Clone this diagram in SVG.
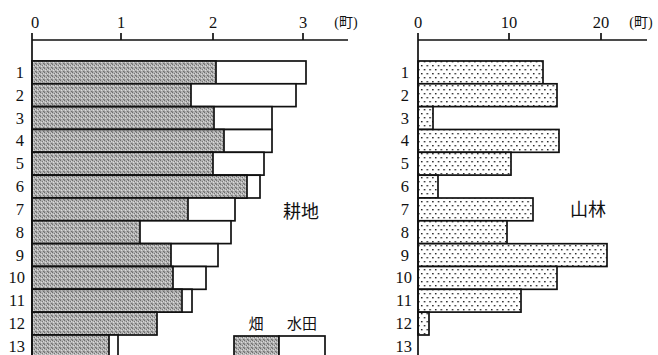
<svg xmlns="http://www.w3.org/2000/svg" width="658" height="355" viewBox="0 0 658 355">
<defs>
<pattern id="gray" width="4" height="4" patternUnits="userSpaceOnUse">
<rect width="4" height="4" fill="#b2b2b2"/>
<rect x="0" y="0" width="1" height="1" fill="#6e6e6e"/>
<rect x="2" y="1" width="1" height="1" fill="#7a7a7a"/>
<rect x="1" y="2" width="1" height="1" fill="#dcdcdc"/>
<rect x="3" y="3" width="1" height="1" fill="#707070"/>
<rect x="3" y="1" width="1" height="1" fill="#d6d6d6"/>
<rect x="0" y="3" width="1" height="1" fill="#909090"/>
</pattern>
<pattern id="dots" width="5.6" height="8" patternUnits="userSpaceOnUse">
<rect width="5.6" height="8" fill="#fff"/>
<rect x="1" y="1" width="1.4" height="1.4" fill="#111"/>
<rect x="3.8" y="5" width="1.4" height="1.4" fill="#111"/>
</pattern>
</defs>
<style>
.num{font-family:"Liberation Serif","DejaVu Serif",serif;font-size:16.5px;fill:#111}
.ax{stroke:#111;stroke-width:1.7;fill:none}
.g{fill:url(#gray);stroke:#111;stroke-width:1.7}
.w{fill:#fff;stroke:#111;stroke-width:1.7}
.d{fill:url(#dots);stroke:#111;stroke-width:1.7}
.cjk{font-family:"Noto Sans CJK JP",sans-serif;fill:#111}
.unit{font-family:"Liberation Serif","Noto Sans CJK JP",serif;font-size:14px;fill:#111}
</style>
<rect width="658" height="355" fill="#fff"/>

<g id="left-chart">
<g id="left-bars">
<rect class="w" x="32" y="61" width="274" height="22.8"/><rect class="g" x="32" y="61" width="184" height="22.8"/>
<rect class="w" x="32" y="83.8" width="264" height="22.8"/><rect class="g" x="32" y="83.8" width="159" height="22.8"/>
<rect class="w" x="32" y="106.7" width="240" height="22.8"/><rect class="g" x="32" y="106.7" width="182" height="22.8"/>
<rect class="w" x="32" y="129.5" width="240" height="22.8"/><rect class="g" x="32" y="129.5" width="192" height="22.8"/>
<rect class="w" x="32" y="152.3" width="232" height="22.8"/><rect class="g" x="32" y="152.3" width="181" height="22.8"/>
<rect class="w" x="32" y="175.2" width="228" height="22.8"/><rect class="g" x="32" y="175.2" width="215" height="22.8"/>
<rect class="w" x="32" y="198" width="203" height="22.8"/><rect class="g" x="32" y="198" width="156" height="22.8"/>
<rect class="w" x="32" y="220.8" width="199" height="22.8"/><rect class="g" x="32" y="220.8" width="108" height="22.8"/>
<rect class="w" x="32" y="243.7" width="186" height="22.8"/><rect class="g" x="32" y="243.7" width="139" height="22.8"/>
<rect class="w" x="32" y="266.5" width="174" height="22.8"/><rect class="g" x="32" y="266.5" width="141" height="22.8"/>
<rect class="w" x="32" y="289.3" width="160" height="22.8"/><rect class="g" x="32" y="289.3" width="150" height="22.8"/>
<rect class="g" x="32" y="312.2" width="125" height="22.8"/>
<rect class="w" x="32" y="335" width="86" height="24"/><rect class="g" x="32" y="335" width="77" height="24"/>
</g>
<g id="left-axis">
<path class="ax" d="M32 33 V355 M32 40 H348 M121 33 V40 M213 33 V40 M303 33 V40"/>
<text class="num" x="35" y="28" text-anchor="middle">0</text>
<text class="num" x="121" y="28" text-anchor="middle">1</text>
<text class="num" x="213" y="28" text-anchor="middle">2</text>
<text class="num" x="303" y="28" text-anchor="middle">3</text>
<text class="unit" x="346" y="27" text-anchor="middle">(町)</text>
</g>
<g id="left-labels" class="num" text-anchor="end">
<text x="24" y="78">1</text><text x="24" y="101">2</text><text x="24" y="124">3</text><text x="24" y="146">4</text><text x="24" y="169">5</text><text x="24" y="192">6</text><text x="24" y="215">7</text><text x="24" y="238">8</text><text x="24" y="261">9</text><text x="25" y="283">10</text><text x="25" y="306">11</text><text x="25" y="329">12</text><text x="25" y="352">13</text>
</g>
<text class="cjk" x="283" y="218" font-size="18">耕地</text>
<g id="legend">
<text class="cjk" x="256" y="329" font-size="15" text-anchor="middle">畑</text>
<text class="cjk" x="302" y="329" font-size="15" text-anchor="middle">水田</text>
<rect class="g" x="234" y="336" width="45" height="24"/>
<rect class="w" x="279" y="336" width="46" height="24"/>
</g>
</g>

<g id="right-chart">
<g id="right-bars">
<rect class="d" x="418" y="61" width="125" height="22.8"/>
<rect class="d" x="418" y="83.8" width="139" height="22.8"/>
<rect class="d" x="418" y="106.7" width="15" height="22.8"/>
<rect class="d" x="418" y="129.5" width="141" height="22.8"/>
<rect class="d" x="418" y="152.3" width="93" height="22.8"/>
<rect class="d" x="418" y="175.2" width="20" height="22.8"/>
<rect class="d" x="418" y="198" width="115" height="22.8"/>
<rect class="d" x="418" y="220.8" width="89" height="22.8"/>
<rect class="d" x="418" y="243.7" width="189" height="22.8"/>
<rect class="d" x="418" y="266.5" width="139" height="22.8"/>
<rect class="d" x="418" y="289.3" width="103" height="22.8"/>
<rect class="d" x="418" y="312.2" width="11" height="22.8"/>
</g>
<g id="right-axis">
<path class="ax" d="M418 33 V355 M418 40 H647 M509 33 V40 M601 33 V40"/>
<text class="num" x="418" y="28" text-anchor="middle">0</text>
<text class="num" x="509" y="28" text-anchor="middle">10</text>
<text class="num" x="601" y="28" text-anchor="middle">20</text>
<text class="unit" x="641" y="27" text-anchor="middle">(町)</text>
</g>
<g id="right-labels" class="num" text-anchor="end">
<text x="409" y="78">1</text><text x="409" y="101">2</text><text x="409" y="124">3</text><text x="409" y="146">4</text><text x="409" y="169">5</text><text x="409" y="192">6</text><text x="409" y="215">7</text><text x="409" y="238">8</text><text x="409" y="261">9</text><text x="412" y="283">10</text><text x="412" y="306">11</text><text x="412" y="329">12</text><text x="412" y="352">13</text>
</g>
<text class="cjk" x="570" y="216" font-size="18">山林</text>
</g>
</svg>
